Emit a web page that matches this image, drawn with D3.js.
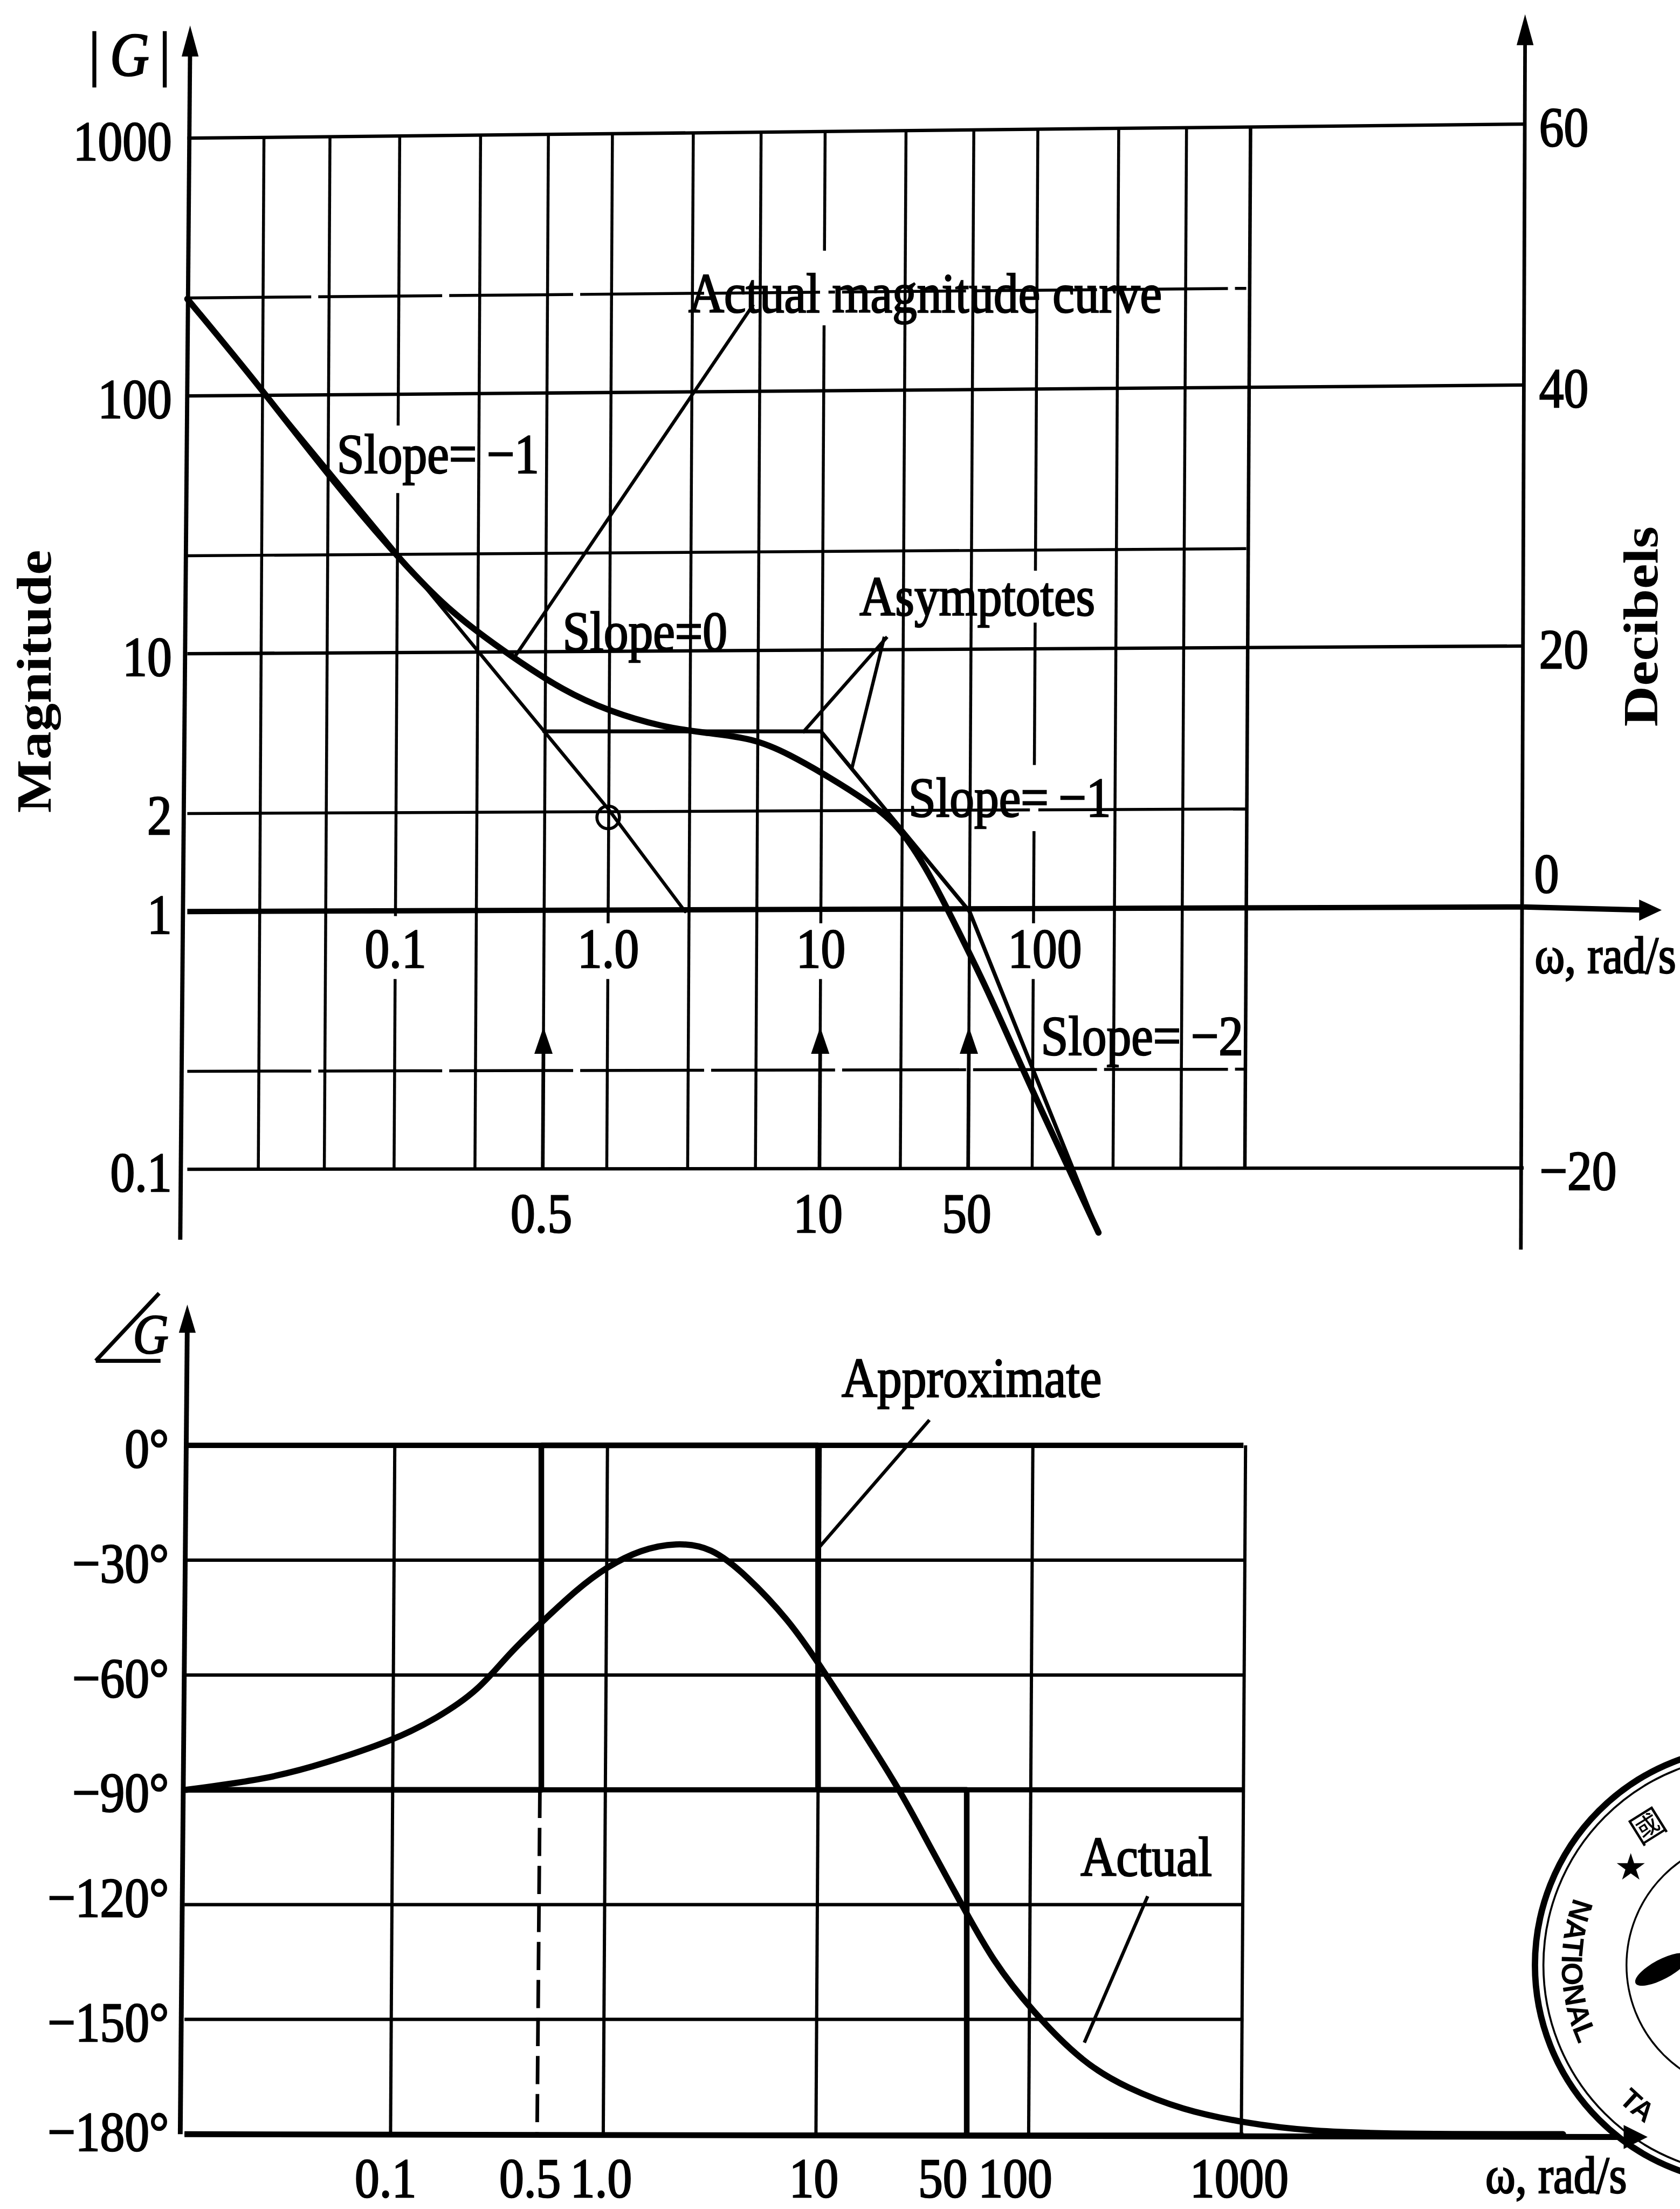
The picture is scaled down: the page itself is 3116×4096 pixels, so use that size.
<!DOCTYPE html>
<html><head><meta charset="utf-8">
<style>html,body{margin:0;padding:0;background:#fff}svg{display:block}
text{font-family:"Liberation Serif",serif;fill:#000}</style>
<script src="https://cdn.jsdelivr.net/npm/d3@7"></script></head>
<body><div id="chart"></div>
<script>
// ---- data ----
const gridW = [0.023,0.047,0.1,0.24,0.5,1,2.4,5,10,24,50,100,240,500,1000];
const magMajor = [1000,100,10,1,0.1];
const magMinor = [240,24,2.4,0.24];
const magTickValues = [1000,100,10,2.4,1,0.1];
const magTickLabels = ["1000","100","10","2","1","0.1"];
const dbValues = [60,40,20,0,-20];
const dbLabels = ["60","40","20","0","\u221220"];
const wTickValues = [0.1,1,10,100];
const wTickLabels = ["0.1","1.0","10","100"];
const breakW = [0.5,10,50];
const breakLabels = ["0.5","10","50"];
const breakArrowG = 0.339;
const asymA_w = [0.0105,0.5,1,2.3];
const asymA_g = [238,5,2.5,1];
const asymB_w = [0.5,10,50,202];
const asymB_g = [5,5,1,0.0568];
const actualW = [0.0105,0.0232,0.0497,0.106,0.182,0.36,0.615,1,1.79,2.82,4.82,7.05,11.1,16.3,23.1,32.4,44,59.6,80.8,110,149,202];
const actualG = [238,108,47.6,22.9,14.4,9.6,7.2,6,5.2,4.94,4.7,4.09,3.3,2.7,2.18,1.41,0.85,0.513,0.291,0.166,0.0975,0.0568];
const gridGapW = [0.1,0.1,1,10,100,100,100,10];
const gridGapHi = [76.8,0.96,0.9,0.9,0.9,21,3.7,366];
const gridGapLo = [42,0.547,0.547,0.547,0.547,13.2,2.05,188];

const phaseGridW = [0.1,1,10,100,1000];
const phaseTicks = [0,-30,-60,-90,-120,-150,-180];
const phaseLabels = ["0\u00b0","\u221230\u00b0","\u221260\u00b0","\u221290\u00b0","\u2212120\u00b0","\u2212150\u00b0","\u2212180\u00b0"];
const phaseXValues = [0.1,0.5,1,10,50,100,1000];
const phaseXLabels = ["0.1","0.5","1.0","10","50","100","1000"];
const approxW = [0.0107,0.5,0.5,10,10,50,50];
const approxP = [-90,-90,0,0,-90,-90,-180];
const phaseW = [0.0107,0.0258,0.0474,0.1016,0.1607,0.254,0.344,0.497,0.738,1.016,1.47,2.15,3.14,4.6,7.27,10,15.6,24.6,33.3,47.4,66.2,102,178,282,519,1000,2046,5943,31800];
const phaseP = [-90,-87.2,-83.2,-77,-71.4,-64,-55,-46.4,-37.5,-31.7,-27.2,-25.4,-26.5,-33.9,-45.6,-56.7,-73.3,-90.6,-104.5,-120,-134.7,-148,-161.6,-167.9,-173.7,-177,-179.3,-180,-180];

// ---- layout (in the 1193x1568 frame) ----
const W=1193,H=1568;
const svg=d3.select("#chart").append("svg").attr("width",3116).attr("height",4096).attr("viewBox",`0 0 ${W} ${H}`);
const x=d3.scaleLog().domain([0.0105,1000]).range([133,885]);
const xP=d3.scaleLog().domain([0.0105,1000]).range([131,883]);
const yM=d3.scaleLog().domain([0.1,1000]).range([830,98]);
const yDb=d3.scaleLinear().domain([-20,60]).range([829,88]);
const yP=d3.scaleLinear().domain([-180,0]).range([1515,1026]);
const RIGHT=1082,LEFT=133;
const yAt=(v,px)=>{const a=yM(v),b=yDb(20*Math.log10(v));return a+(b-a)*(px-LEFT)/(RIGHT-LEFT);};
const tilt=y=>3-4*(y-98)/732;
const xAt=(w,y)=>x(w)+tilt(y);

function seg(g,a,b,c,d,sw,opt={}){const l=g.append("line").attr("x1",a).attr("y1",b).attr("x2",c).attr("y2",d)
  .attr("stroke",opt.color||"#000").attr("stroke-width",sw);if(opt.dash)l.attr("stroke-dasharray",opt.dash);return l;}
function tri(g,tx,ty,dir,len=17,wid=11){const pts=dir==="up"?[[tx,ty],[tx-wid/2,ty+len],[tx+wid/2,ty+len]]:[[tx,ty],[tx-len,ty-wid/2],[tx-len,ty+wid/2]];
  g.append("path").attr("d",d3.line()(pts)+"Z").attr("fill","#000");}
function label(g,str,px,py,anchor="middle",opt={}){
  const t=g.append("g").attr("transform",`translate(${px},${py+13.6}) scale(0.875,1)`+(opt.rot?` rotate(${opt.rot})`:""))
   .append("text").attr("text-anchor",anchor).attr("font-size",opt.size||40).text(str);
  if(opt.bold)t.attr("font-weight","bold");else t.attr("stroke","#000").attr("stroke-width",1);
  if(opt.italic)t.attr("font-style","italic");
  return t;}

// ---- magnitude panel ----
const m=svg.append("g");
gridW.forEach(w=>{const y0=yAt(1000,x(w)),y1=yAt(0.1,x(w));seg(m,xAt(w,y0),y0,xAt(w,y1),y1,w===1000?2.5:2.1);});
magMajor.forEach(v=>seg(m,x.range()[0],yM(v),RIGHT,yDb(20*Math.log10(v)),v===1?3.8:2.4));
magMinor.forEach(v=>seg(m,LEFT,yAt(v,LEFT),885,yAt(v,885),2.1,{dash:(v===240||v===0.24)?"88 5":null}));
gridGapW.forEach((w,i)=>{const a=yM(gridGapHi[i]),b=yM(gridGapLo[i]);seg(m,xAt(w,a),a,xAt(w,b),b,6,{color:"#fff"});});
seg(m,135,32,128,880,3);tri(m,135,18,"up",22,12);
seg(m,1083,25,1080,887,2.6);tri(m,1083,10,"up",22,12);
seg(m,RIGHT,yDb(0),1168,646,3.8);tri(m,1180,646,"right",16,15);

const lineM=d3.line().x(d=>x(d[0])).y(d=>yM(d[1]));
const noFill=(g,d,sw)=>g.append("path").attr("d",d).attr("fill","none").attr("stroke","#000").attr("stroke-width",sw).attr("stroke-linejoin","round").attr("stroke-linecap","round");
noFill(m,lineM(d3.zip(asymA_w,asymA_g)),2.4);
noFill(m,lineM(d3.zip(asymB_w,asymB_g)),2.8);
noFill(m,d3.line().curve(d3.curveBasis).x(d=>x(d[0])).y(d=>yM(d[1]))(d3.zip(actualW,actualG)),4.4);
m.append("circle").attr("cx",x(1)).attr("cy",yM(2.5)+6).attr("r",8).attr("fill","none").attr("stroke","#000").attr("stroke-width",2.2);

breakW.forEach((w,i)=>{const ya=yM(breakArrowG);seg(m,xAt(w,ya),ya+10,xAt(w,yM(0.1)),yM(0.1),2.6);tri(m,xAt(w,ya),ya-4,"up",19,13);
  label(m,breakLabels[i],x(w)-2,861);});
magTickValues.forEach((v,i)=>label(m,magTickLabels[i],122,yM(v)+(v===2.4?1:2),"end"));
wTickValues.forEach((w,i)=>label(m,wTickLabels[i],x(w)+(w===100?8:0),673));
dbValues.forEach((d,i)=>label(m,dbLabels[i],d===-20?1148:(d===0?1107:1128),d===0?620:yDb(d)+2,"end"));
label(m,"\u03c9, rad/s",1140,677,"middle",{size:37});
label(m,"Magnitude",36,470,"middle",{rot:-90,bold:true,size:40});
label(m,"Decibels",1177,431,"middle",{rot:-90,bold:true,size:40});
// |G|
seg(m,67,22,67,62,2.8);seg(m,117,22,117,62,2.8);
label(m,"G",92,40,"middle",{italic:true,size:44});

// annotations
seg(m,535,216,365,467,2.4);
seg(m,630,452,570,520,2.4);
seg(m,628,452,605,545,2.4);
label(m,"Actual magnitude curve",657,208);
label(m,"Slope=\u2009\u22121",311,322);
label(m,"Slope=0",458,448);
label(m,"Asymptotes",694,423);
label(m,"Slope=\u2009\u22121",717,566);
label(m,"Slope=\u2009\u22122",811,735);

// ---- phase panel ----
const p=svg.append("g");
const tiltP=y=>1.5-3*(y-1026)/489;
const xpAt=(w,y)=>xP(w)+tiltP(y);
phaseGridW.forEach(w=>seg(p,xpAt(w,1026),1026,xpAt(w,1515),1515,2.3));
phaseTicks.forEach(t=>seg(p,xP.range()[0],yP(t),883,yP(t),(t===0)?3.8:(t===-90?3.6:2.4)));
seg(p,133,940,128,1515,3.4);tri(p,133,926,"up",20,12);
seg(p,131,yP(-180),1150,yP(-180)+2,4.2);
tri(p,1170,yP(-180)+2,"right",17,17);
const lineP=d3.line().x(d=>xP(d[0])).y(d=>yP(d[1]));
noFill(p,lineP(d3.zip(approxW,approxP)),4);
seg(p,xP(0.5)-1,yP(-90),xP(0.5)-3,yP(-180),2.6,{dash:"20 7"});
noFill(p,d3.line().curve(d3.curveBasis).x(d=>xP(d[0])).y(d=>yP(d[1]))(d3.zip(phaseW,phaseP)),4.4);
phaseTicks.forEach((t,i)=>label(p,phaseLabels[i],120,yP(t)+(t===-180?-2:t===-120?-5:2),"end"));
const pxOff={0.1:-5,0.5:-8,1:-3,10:-3,50:-17,100:-11,1000:-3};
phaseXValues.forEach((w,i)=>label(p,phaseXLabels[i],xP(w)+pxOff[w],1546));
label(p,"\u03c9, rad/s",1105,1543,"middle",{size:37});
seg(p,68,966,114,966,2.8);seg(p,68,966,113,918,2.8);
label(p,"G",107,947,"middle",{italic:true,size:40});
label(p,"Approximate",690,978);
label(p,"Actual",814,1318);
seg(p,660,1008,582,1098,2.4);
seg(p,815,1346,770,1450,2.4);

// ---- library stamp, bottom right ----
const s=svg.append("g");
const cx=1245,cy=1395;
s.append("circle").attr("cx",cx).attr("cy",cy).attr("r",155).attr("fill","none").attr("stroke","#000").attr("stroke-width",4.5);
s.append("circle").attr("cx",cx).attr("cy",cy).attr("r",149).attr("fill","none").attr("stroke","#000").attr("stroke-width",1.4);
s.append("circle").attr("cx",cx).attr("cy",cy).attr("r",90).attr("fill","none").attr("stroke","#000").attr("stroke-width",1.3);
const r=136,a0=-0.36,a1=1.5;
svg.append("defs").append("path").attr("id","stampArc")
  .attr("d",`M ${cx-r*Math.cos(a0)} ${cy+r*Math.sin(a0)} A ${r} ${r} 0 0 0 ${cx-r*Math.cos(a1)} ${cy+r*Math.sin(a1)}`);
const stampText=(str,off,size)=>s.append("text").attr("font-size",size).style("font-weight","bold").style("font-family","'Liberation Sans',sans-serif")
  .append("textPath").attr("href","#stampArc").attr("startOffset",off).text(str);
stampText("NATIONAL",0,21);
stampText("TA",156,20);
s.append("text").attr("x",1158).attr("y",1334).attr("font-size",26).attr("text-anchor","middle").style("font-family","'DejaVu Sans'").text("\u2605");
s.append("g").attr("transform","translate(1170,1296) rotate(-32)").append("text").attr("text-anchor","middle").attr("y",9)
  .attr("font-size",24).style("font-family","'Noto Sans CJK TC'").text("\u570b");
s.append("ellipse").attr("cx",1180).attr("cy",1398).attr("rx",21).attr("ry",7).attr("transform","rotate(-28 1180 1398)").attr("fill","#000");
</script></body></html>
